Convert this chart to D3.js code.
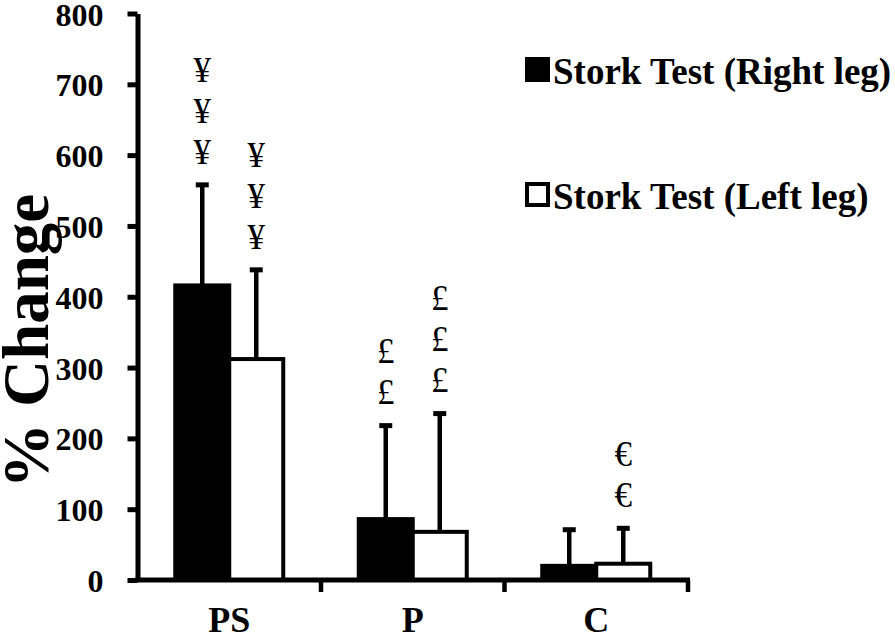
<!DOCTYPE html>
<html>
<head>
<meta charset="utf-8">
<script src="https://cdn.jsdelivr.net/npm/d3@7"></script>
<style>
  body { margin: 0; background: #fff; }
  svg text { font-family: "Liberation Serif", "Times New Roman", serif; }
</style>
</head>
<body>
<div id="chart"></div>
<script>
const categories = ["PS", "P", "C"];
const seriesNames = ["Stork Test (Right leg)", "Stork Test (Left leg)"];
const rightMeans = [416, 86, 20];
const rightSD = [142, 132, 51];
const leftMeans = [312, 68, 23];
const leftSD = [126, 167, 50];
const yTicks = [0, 100, 200, 300, 400, 500, 600, 700, 800];
// significance symbols above each bar
const rightMarks = ["¥¥¥", "££", ""];
const leftMarks = ["¥¥¥", "£££", "€€"];

const width = 895, height = 636;

const svg = d3.select("#chart")
  .append("svg")
  .attr("width", width)
  .attr("height", height);

const y = d3.scaleLinear().domain([0, 800]).range([580, 13.5]);

const x = d3.scaleBand().domain(categories).range([137.5, 688]).padding(0);

const xSub = d3.scaleBand()
  .domain([0, 1])
  .range([x.bandwidth() / 2 - 54, x.bandwidth() / 2 + 54])
  .padding(0);

const rows = categories.flatMap((c, i) => [
  { cat: c, s: 0, mean: rightMeans[i], sd: rightSD[i], marks: rightMarks[i] },
  { cat: c, s: 1, mean: leftMeans[i], sd: leftSD[i], marks: leftMarks[i] },
]);

const bx = (d) => x(d.cat) + xSub(d.s);
const cx = (d) => bx(d) + xSub.bandwidth() / 2;

// error bars (behind the bars)
const err = svg.append("g").attr("stroke", "#000");
err.selectAll("line.stem")
  .data(rows)
  .join("line")
  .attr("class", "stem")
  .attr("x1", cx)
  .attr("x2", cx)
  .attr("y1", (d) => y(d.mean))
  .attr("y2", (d) => y(d.mean + d.sd))
  .attr("stroke-width", 4.5);
err.selectAll("line.cap")
  .data(rows)
  .join("line")
  .attr("class", "cap")
  .attr("x1", (d) => cx(d) - 6.5)
  .attr("x2", (d) => cx(d) + 6.5)
  .attr("y1", (d) => y(d.mean + d.sd))
  .attr("y2", (d) => y(d.mean + d.sd))
  .attr("stroke-width", 5);

// bars
svg.append("g")
  .selectAll("rect")
  .data(rows)
  .join("rect")
  .attr("x", bx)
  .attr("y", (d) => y(d.mean))
  .attr("width", xSub.bandwidth())
  .attr("height", (d) => y(0) - y(d.mean))
  .attr("fill", (d) => (d.s === 0 ? "#000" : "#fff"))
  .attr("stroke", "#000")
  .attr("stroke-width", 4);

// significance symbols
const symGap = 31, symStep = 41;
svg.append("g")
  .selectAll("g")
  .data(rows.filter((d) => d.marks.length))
  .join("g")
  .each(function (d) {
    const top = y(d.mean + d.sd) - 2.5;
    d3.select(this)
      .selectAll("text")
      .data(Array.from(d.marks))
      .join("text")
      .attr("x", cx(d))
      .attr("y", (_, k) => top - symGap - k * symStep)
      .attr("dy", "0.35em")
      .attr("text-anchor", "middle")
      .style("font-size", "35px")
      .text((s) => s);
  });

// y axis
const yAxis = svg.append("g")
  .attr("transform", `translate(${x.range()[0]},0)`)
  .call(d3.axisLeft(y).tickValues(yTicks).tickSize(10).tickSizeOuter(0).tickPadding(24));
yAxis.select(".domain").attr("stroke-width", 5);
yAxis.selectAll(".tick line").attr("stroke-width", 5);
yAxis.selectAll(".tick text")
  .attr("fill", "#000")
  .attr("dy", "0.36em")
  .style("font-family", "Liberation Serif, Times New Roman, serif")
  .style("font-size", "32px")
  .style("font-weight", "bold");

// x axis
const xg = svg.append("g");
xg.append("line")
  .attr("x1", x.range()[0] - 2.5)
  .attr("x2", x.range()[1] + 2)
  .attr("y1", y(0))
  .attr("y2", y(0))
  .attr("stroke", "#000")
  .attr("stroke-width", 5);
xg.selectAll("line.tk")
  .data(categories)
  .join("line")
  .attr("class", "tk")
  .attr("x1", (c) => x(c) + x.bandwidth())
  .attr("x2", (c) => x(c) + x.bandwidth())
  .attr("y1", y(0))
  .attr("y2", y(0) + 12)
  .attr("stroke", "#000")
  .attr("stroke-width", 4.5);
xg.selectAll("text")
  .data(categories)
  .join("text")
  .attr("x", (c) => x(c) + x.bandwidth() / 2)
  .attr("y", 632)
  .attr("text-anchor", "middle")
  .style("font-size", "36px")
  .style("font-weight", "bold")
  .text((c) => c);

// y axis title
svg.append("text")
  .attr("transform", "translate(48,341) rotate(-90)")
  .attr("text-anchor", "middle")
  .style("font-size", "65px")
  .style("font-weight", "bold")
  .text("% Change");

// legend
const legend = svg.append("g")
  .selectAll("g")
  .data(seriesNames)
  .join("g")
  .attr("transform", (_, i) => `translate(525,${57 + i * 125})`);
legend.append("rect")
  .attr("x", (_, i) => (i === 0 ? 0 : 2))
  .attr("y", (_, i) => (i === 0 ? 0 : 2))
  .attr("width", (_, i) => (i === 0 ? 25 : 21))
  .attr("height", (_, i) => (i === 0 ? 25 : 21))
  .attr("fill", (_, i) => (i === 0 ? "#000" : "#fff"))
  .attr("stroke", "#000")
  .attr("stroke-width", (_, i) => (i === 0 ? 0 : 4));
legend.append("text")
  .attr("x", 28)
  .attr("y", 27)
  .style("font-size", "37px")
  .style("font-weight", "bold")
  .text((d) => d);
</script>
</body>
</html>
